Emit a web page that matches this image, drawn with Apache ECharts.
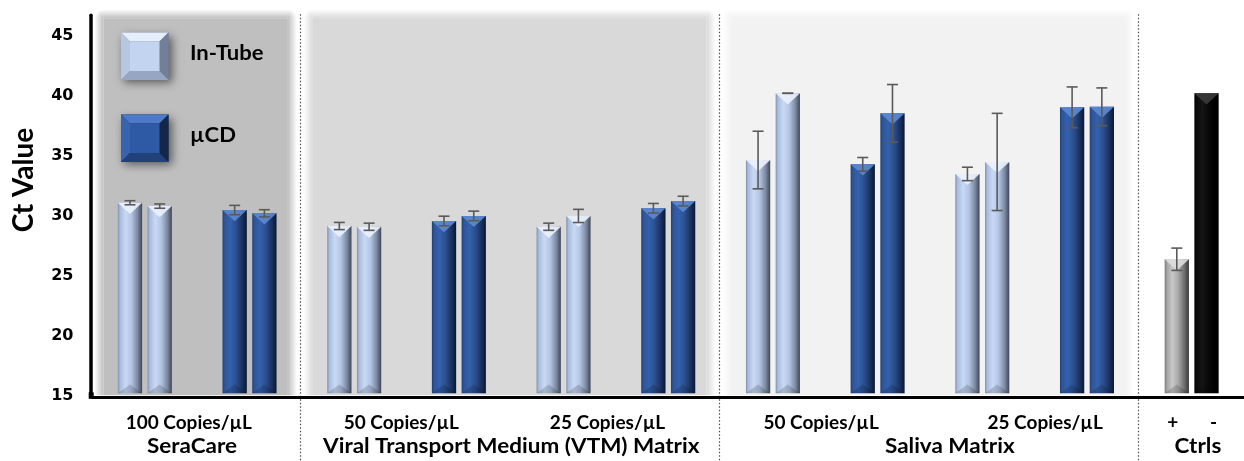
<!DOCTYPE html>
<html>
<head>
<meta charset="utf-8">
<script src="https://cdn.jsdelivr.net/npm/echarts@6/dist/echarts.min.js"></script>
<style>
  html, body { margin: 0; padding: 0; background: #ffffff; }
  #chart { width: 1244px; height: 461px; }
</style>
</head>
<body>
<div id="chart"></div>
<script>
// ---- data -------------------------------------------------------------
// One x-axis slot per replicate pair (In-Tube or µCD), plus the controls slot.
const slots = ['SC100-IT', 'SC100-CD', 'VTM50-IT', 'VTM50-CD', 'VTM25-IT', 'VTM25-CD',
               'SAL50-IT', 'SAL50-CD', 'SAL25-IT', 'SAL25-CD', 'CTRL'];
const slotKind = ['it', 'cd', 'it', 'cd', 'it', 'cd', 'it', 'cd', 'it', 'cd', 'ctrl'];

// Ct values of the two replicates in every slot, with their error (± Ct)
const rep1    = [30.88, 30.27, 28.94, 29.36, 28.88, 30.42, 34.44, 34.08, 33.28, 38.83, 26.17];
const rep1Err = [0.17,  0.39,  0.30,  0.40,  0.30,  0.40,  2.40,  0.57,  0.56,  1.70,  0.93];
const rep2    = [30.60, 30.00, 28.88, 29.78, 29.78, 31.02, 40.00, 38.33, 34.28, 38.88, 40.00];
const rep2Err = [0.18,  0.30,  0.30,  0.40,  0.55,  0.40,  0.00,  2.40,  4.05,  1.57,  null];

// Axis ticks
const yTicks = [15, 20, 25, 30, 35, 40, 45];

// Texts under the axis
const doseLabels   = ['100 Copies/\u00b5L', '50 Copies/\u00b5L', '25 Copies/\u00b5L',
                      '50 Copies/\u00b5L', '25 Copies/\u00b5L', '+', '-'];
const matrixLabels = ['SeraCare', 'Viral Transport Medium (VTM) Matrix', 'Saliva Matrix', 'Ctrls'];
const legendNames  = ['In-Tube', '\u00b5CD'];

// ---- layout (slot coordinates, not data) -----------------------------
const doseAnchor   = [0.42, 2.45, 4.42, 6.46, 8.60, 9.82, 10.21];
const matrixAnchor = [0.45, 3.50, 7.69, 10.06];
const panelSpans   = [[0, 1], [2, 5], [6, 9]];
const panelFill    = ['#bfbfbf', '#d9d9d9', '#f2f2f2'];
const separatorAt  = [1.5, 5.5, 9.5];

const FONT = 'Lato, "Open Sans", "DejaVu Sans", sans-serif';
const BAR_W = 0.232;   // bar width as a share of the slot
const BAR_OFF = 0.142; // replicate offset from slot centre

const palettes = {
  it:   { stops: ['#7f90ae', '#a9bcdc', '#c9d9f5', '#b3c5e4', '#7a879e', '#3d4657'], tri: '#ecf2fd' },
  cd:   { stops: ['#223f74', '#2f5597', '#3461ad', '#2b4f8f', '#19305d', '#0b1631'], tri: '#5d89d3' },
  pos:  { stops: ['#7a7a7a', '#a3a3a3', '#c9c9c9', '#a8a8a8', '#6b6b6b', '#383838'], tri: '#dedede' },
  neg:  { stops: ['#000000', '#0a0a0a', '#151515', '#0a0a0a', '#000000', '#000000'], tri: '#3a3a3a' }
};
function paletteFor(slot, rep) {
  const k = slotKind[slot];
  if (k === 'ctrl') return rep ? palettes.neg : palettes.pos;
  return palettes[k];
}
function hGrad(stops) {
  const pos = [0, 0.09, 0.32, 0.56, 0.82, 1];
  return { type: 'linear', x: 0, y: 0, x2: 1, y2: 0,
           colorStops: stops.map((c, i) => ({ offset: pos[i], color: c })) };
}

const barData = [];
slots.forEach((s, i) => {
  barData.push([i, rep1[i], rep1Err[i] == null ? -1 : rep1Err[i], 0]);
  barData.push([i, rep2[i], rep2Err[i] == null ? -1 : rep2Err[i], 1]);
});

function renderBar(params, api) {
  const slot = api.value(0), val = api.value(1), err = api.value(2), rep = api.value(3);
  const top = api.coord([slot, val]);
  const base = api.coord([slot, yTicks[0]]);
  const band = api.size([1, 0])[0];
  const w = band * BAR_W;
  const cx = top[0] + (rep ? 1 : -1) * band * BAR_OFF;
  const x0 = cx - w / 2, x1 = cx + w / 2, yT = top[1], yB = base[1];
  const pal = paletteFor(slot, rep);
  const children = [
    { type: 'rect', shape: { x: x0, y: yT, width: w, height: yB - yT }, style: { fill: hGrad(pal.stops) } },
    { type: 'polygon', shape: { points: [[x0, yT], [x1, yT], [cx, yT + w * 0.46]] },
      style: { fill: pal.tri, opacity: 0.9 } },
    { type: 'polygon', shape: { points: [[x0, yB], [cx, yB - w * 0.36], [x1, yB]] },
      style: { fill: 'rgba(0,0,0,0.16)' } }
  ];
  if (err >= 0) {
    const hi = api.coord([slot, val + err])[1];
    const lo = api.coord([slot, val - err])[1];
    const es = { stroke: '#5a5a5a', lineWidth: 1.6 };
    children.push(
      { type: 'line', shape: { x1: cx, y1: hi, x2: cx, y2: lo }, style: es },
      { type: 'line', shape: { x1: cx - 5.5, y1: hi, x2: cx + 5.5, y2: hi }, style: es },
      { type: 'line', shape: { x1: cx - 5.5, y1: lo, x2: cx + 5.5, y2: lo }, style: es }
    );
  }
  return { type: 'group', children };
}

const chart = echarts.init(document.getElementById('chart'), null, { renderer: 'canvas' });

chart.setOption({
  backgroundColor: '#ffffff',
  animation: false,
  grid: { left: 92.5, right: -13.5, top: 15.3, bottom: 67.7, containLabel: false },
  xAxis: {
    type: 'category', data: slots, offset: 4, z: 4,
    axisLine: { lineStyle: { color: '#000000', width: 3 } },
    axisTick: { show: false }, axisLabel: { show: false }, splitLine: { show: false }
  },
  yAxis: {
    type: 'value', min: yTicks[0], max: 46.5, interval: 5, offset: 2, z: 4,
    axisLine: { show: true, lineStyle: { color: '#000000', width: 3.5 } },
    axisTick: { show: false }, splitLine: { show: false },
    axisLabel: {
      margin: 17,
      formatter: v => (yTicks.indexOf(v) >= 0 ? '{t|' + v + '}' : ''),
      rich: {
        t: { color: '#000000', fontFamily: '"DejaVu Sans", sans-serif', fontWeight: 'bold', fontSize: 16,
             padding: [5, 0, 0, 0] }
      }
    }
  },
  series: [{
    type: 'custom', name: 'Ct', z: 5,
    renderItem: renderBar,
    encode: { x: 0, y: 1 },
    data: barData
  }]
});

// ---- decorations placed through the axes' own scales ------------------
const px0 = chart.convertToPixel({ xAxisIndex: 0 }, 0);
const band = chart.convertToPixel({ xAxisIndex: 0 }, 1) - px0;
const sx = c => px0 + c * band;
const yTop = chart.convertToPixel({ yAxisIndex: 0 }, 46.5);
const yBase = chart.convertToPixel({ yAxisIndex: 0 }, yTicks[0]);

function softPanel(xa, xb, ya, yb, color, f) {
  const clear = echarts.color.modifyAlpha(color, 0);
  const w = xb - xa, h = yb - ya;
  const lin = (x, y, x2, y2) => ({ type: 'linear', x, y, x2, y2,
    colorStops: [{ offset: 0, color: clear }, { offset: 1, color }] });
  const rad = (x, y) => ({ type: 'radial', x, y, r: 1,
    colorStops: [{ offset: 0, color }, { offset: 1, color: clear }] });
  return [
    { type: 'rect', z: 1, shape: { x: xa + f, y: ya + f, width: w - 2 * f, height: h - f }, style: { fill: color } },
    { type: 'rect', z: 1, shape: { x: xa, y: ya + f, width: f, height: h - f }, style: { fill: lin(0, 0, 1, 0) } },
    { type: 'rect', z: 1, shape: { x: xb - f, y: ya + f, width: f, height: h - f }, style: { fill: lin(1, 0, 0, 0) } },
    { type: 'rect', z: 1, shape: { x: xa + f, y: ya, width: w - 2 * f, height: f }, style: { fill: lin(0, 0, 0, 1) } },
    { type: 'rect', z: 1, shape: { x: xa, y: ya, width: f, height: f }, style: { fill: rad(1, 1) } },
    { type: 'rect', z: 1, shape: { x: xb - f, y: ya, width: f, height: f }, style: { fill: rad(0, 1) } }
  ];
}

const graphics = [];
panelSpans.forEach((sp, i) => {
  graphics.push(...softPanel(sx(sp[0] - 0.5) + 2, sx(sp[1] + 0.5) - 5, yTop - 6, yBase + 2, panelFill[i], 9));
});
separatorAt.forEach(c => {
  const x = Math.round(sx(c) - 1.5) + 0.5;
  graphics.push({ type: 'line', z: 2, shape: { x1: x, y1: yTop - 1, x2: x, y2: 461 },
    style: { stroke: '#4d4d4d', lineWidth: 1.2, lineDash: [1.5, 2] } });
});
// join the two axis lines at the origin corner
graphics.push({ type: 'rect', z: 4, shape: { x: 88.7, y: yBase - 1, width: 5, height: 6.5 }, style: { fill: '#000000' } });

doseLabels.forEach((t, i) => {
  graphics.push({ type: 'text', z: 3, x: sx(doseAnchor[i]), y: 423,
    style: { text: t, textAlign: 'center', textVerticalAlign: 'middle',
             font: 'bold 19px ' + FONT, fill: '#000000' } });
});
matrixLabels.forEach((t, i) => {
  graphics.push({ type: 'text', z: 3, x: sx(matrixAnchor[i]), y: 446, scaleX: 1.07,
    style: { text: t, textAlign: 'center', textVerticalAlign: 'middle',
             font: 'bold 21px ' + FONT, fill: '#000000' } });
});

graphics.push({ type: 'text', z: 3, x: 24, y: 180, rotation: Math.PI / 2,
  style: { text: 'Ct Value', textAlign: 'center', textVerticalAlign: 'middle',
           font: 'bold 28px ' + FONT, fill: '#000000' } });

// beveled legend swatches
function swatch(x, y, s, b, c) {
  const z = 6;
  return { type: 'group', x, y, children: [
    { type: 'rect', z, shape: { x: 0, y: 0, width: s, height: s },
      style: { fill: c.right, shadowBlur: 9, shadowOffsetX: 3, shadowOffsetY: 3, shadowColor: 'rgba(0,0,0,0.55)' } },
    { type: 'polygon', z, shape: { points: [[0, 0], [s, 0], [s - b, b], [b, b]] }, style: { fill: c.top } },
    { type: 'polygon', z, shape: { points: [[0, 0], [b, b], [b, s - b], [0, s]] }, style: { fill: c.left } },
    { type: 'polygon', z, shape: { points: [[s, 0], [s, s], [s - b, s - b], [s - b, b]] }, style: { fill: c.right } },
    { type: 'polygon', z, shape: { points: [[0, s], [b, s - b], [s - b, s - b], [s, s]] }, style: { fill: c.bottom } },
    { type: 'rect', z, shape: { x: b, y: b, width: s - 2 * b, height: s - 2 * b }, style: { fill: c.face } }
  ] };
}
const swatchColors = [
  { top: '#e6eefb', left: '#b6c7e4', right: '#737f97', bottom: '#96a6c3', face: '#c3d4f1' },
  { top: '#4c7ac8', left: '#3863ae', right: '#152749', bottom: '#22407a', face: '#2e5aa5' }
];
legendNames.forEach((n, i) => {
  const y0 = 32.5 + i * 82;
  graphics.push(swatch(121, y0, 47.5, 9, swatchColors[i]));
  graphics.push({ type: 'text', z: 6, x: 190, y: y0 + 20.5, scaleX: 1.05,
    style: { text: n, textAlign: 'left', textVerticalAlign: 'middle',
             font: 'bold 21px ' + FONT, fill: '#000000' } });
});

chart.setOption({ graphic: { elements: graphics } });
</script>
</body>
</html>
